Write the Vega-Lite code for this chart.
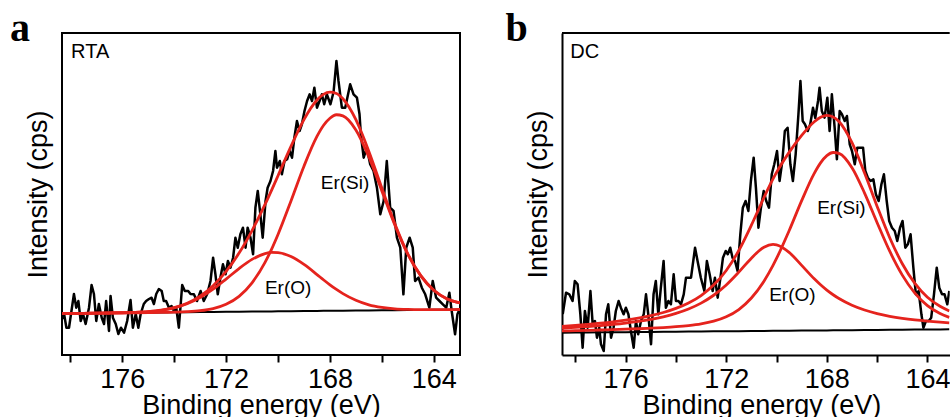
{
  "$schema": "https://vega.github.io/schema/vega-lite/v6.json",
  "padding": {"left": 9, "top": 8, "right": 0, "bottom": 0},
  "autosize": {"type": "pad"},
  "spacing": 44,
  "config": {
    "font": "Liberation Sans",
    "axis": {"grid": false, "labelColor": "#000", "titleColor": "#000", "tickColor": "#000", "domainColor": "#000", "titleFontWeight": "normal", "labelFontSize": 27, "titleFontSize": 27, "labelFont": "Liberation Sans", "titleFont": "Liberation Sans"}
  },
  "datasets": {
    "a_raw": [
      {"E":178.3,"I":35},{"E":178.24,"I":40},{"E":178.15,"I":26.3},{"E":178.05,"I":26.3},{"E":177.86,"I":60},{"E":177.77,"I":46.3},{"E":177.69,"I":53},{"E":177.6,"I":33},{"E":177.51,"I":40},{"E":177.41,"I":30},{"E":177.28,"I":46.3},{"E":177.18,"I":69},{"E":177.09,"I":60},{"E":177.0,"I":33},{"E":176.9,"I":50},{"E":176.79,"I":36.3},{"E":176.7,"I":30},{"E":176.62,"I":53},{"E":176.51,"I":23},{"E":176.45,"I":58},{"E":176.36,"I":36.3},{"E":176.25,"I":30},{"E":176.15,"I":20},{"E":176.05,"I":26.3},{"E":175.93,"I":21.3},{"E":175.81,"I":33},{"E":175.68,"I":54},{"E":175.59,"I":26.3},{"E":175.48,"I":40},{"E":175.38,"I":26.3},{"E":175.29,"I":40},{"E":175.17,"I":50},{"E":175.08,"I":53},{"E":174.97,"I":55},{"E":174.87,"I":56.3},{"E":174.78,"I":50},{"E":174.69,"I":60},{"E":174.59,"I":65},{"E":174.48,"I":63},{"E":174.4,"I":53},{"E":174.31,"I":53},{"E":174.2,"I":46.3},{"E":174.1,"I":48},{"E":174.01,"I":43},{"E":173.92,"I":46.3},{"E":173.82,"I":26.3},{"E":173.69,"I":69},{"E":173.59,"I":63},{"E":173.46,"I":63},{"E":173.37,"I":60},{"E":173.24,"I":59.7},{"E":173.12,"I":53},{"E":172.98,"I":63},{"E":172.86,"I":53},{"E":172.73,"I":59.7},{"E":172.6,"I":73},{"E":172.5,"I":96.3},{"E":172.41,"I":79.7},{"E":172.32,"I":59.7},{"E":172.22,"I":76.3},{"E":172.12,"I":89.7},{"E":172.02,"I":79.7},{"E":171.93,"I":93},{"E":171.83,"I":86.3},{"E":171.73,"I":96.3},{"E":171.64,"I":116.3},{"E":171.55,"I":106.3},{"E":171.45,"I":119.7},{"E":171.35,"I":126.3},{"E":171.25,"I":106.3},{"E":171.17,"I":126.3},{"E":171.06,"I":116.3},{"E":170.96,"I":99.7},{"E":170.87,"I":146.3},{"E":170.78,"I":163},{"E":170.68,"I":139.7},{"E":170.59,"I":116.3},{"E":170.48,"I":153},{"E":170.4,"I":166.3},{"E":170.29,"I":173},{"E":170.19,"I":183},{"E":170.1,"I":203},{"E":170.04,"I":186.3},{"E":169.93,"I":193},{"E":169.85,"I":179.7},{"E":169.75,"I":193},{"E":169.65,"I":194.7},{"E":169.55,"I":203},{"E":169.46,"I":196.3},{"E":169.37,"I":216.3},{"E":169.27,"I":233},{"E":169.17,"I":223},{"E":169.08,"I":229.7},{"E":168.98,"I":243},{"E":168.88,"I":253},{"E":168.78,"I":259.7},{"E":168.69,"I":253},{"E":168.6,"I":266.3},{"E":168.5,"I":246.3},{"E":168.4,"I":253},{"E":168.31,"I":259.7},{"E":168.22,"I":249.7},{"E":168.12,"I":259.7},{"E":167.98,"I":249.7},{"E":167.86,"I":262},{"E":167.75,"I":293},{"E":167.67,"I":273},{"E":167.54,"I":246.3},{"E":167.41,"I":246.3},{"E":167.22,"I":269.7},{"E":167.09,"I":259.7},{"E":166.96,"I":256.3},{"E":166.86,"I":239.7},{"E":166.81,"I":219.7},{"E":166.7,"I":196.3},{"E":166.58,"I":206.3},{"E":166.45,"I":189.7},{"E":166.32,"I":183},{"E":166.19,"I":166.3},{"E":166.06,"I":139.7},{"E":165.93,"I":153},{"E":165.81,"I":193},{"E":165.68,"I":146.3},{"E":165.55,"I":143},{"E":165.42,"I":116.3},{"E":165.29,"I":106.3},{"E":165.17,"I":59.7},{"E":165.06,"I":106.3},{"E":164.93,"I":116.3},{"E":164.81,"I":106.3},{"E":164.72,"I":73},{"E":164.59,"I":76.3},{"E":164.46,"I":66.3},{"E":164.33,"I":59.7},{"E":164.17,"I":46.3},{"E":164.04,"I":73},{"E":163.91,"I":56.3},{"E":163.78,"I":53},{"E":163.65,"I":49.7},{"E":163.52,"I":46.3},{"E":163.4,"I":61.3},{"E":163.31,"I":43},{"E":163.18,"I":19.7},{"E":163.09,"I":39.7},{"E":163.0,"I":45}
    ],
    "a_fit": [
      {"E":178.32,"base":40.5,"si":40.5,"o":40.5,"env":40.5},
      {"E":177.5,"base":40.71,"si":40.71,"o":40.71,"env":40.71},
      {"E":177,"base":40.84,"si":40.84,"o":40.86,"env":40.86},
      {"E":176.5,"base":40.97,"si":40.97,"o":41.02,"env":41.02},
      {"E":176,"base":41.1,"si":41.1,"o":41.25,"env":41.25},
      {"E":175.5,"base":41.24,"si":41.24,"o":41.65,"env":41.65},
      {"E":175,"base":41.37,"si":41.39,"o":42.36,"env":42.38},
      {"E":174.5,"base":41.5,"si":41.56,"o":43.7,"env":43.76},
      {"E":174,"base":41.63,"si":41.82,"o":46.13,"env":46.32},
      {"E":173.5,"base":41.76,"si":42.3,"o":50.26,"env":50.8},
      {"E":173,"base":41.89,"si":43.3,"o":56.39,"env":57.8},
      {"E":172.5,"base":42.02,"si":45.44,"o":64.82,"env":68.24},
      {"E":172,"base":42.15,"si":49.74,"o":74.95,"env":82.54},
      {"E":171.5,"base":42.28,"si":57.68,"o":85.48,"env":100.88},
      {"E":171,"base":42.41,"si":71.21,"o":94.61,"env":123.41},
      {"E":170.5,"base":42.54,"si":91.64,"o":100.44,"env":149.54},
      {"E":170.25,"base":42.6,"si":104.7,"o":101.6,"env":163.7},
      {"E":170,"base":42.67,"si":119.57,"o":101.37,"env":178.27},
      {"E":169.5,"base":42.8,"si":153.1,"o":97.4,"env":207.7},
      {"E":169,"base":42.93,"si":187.83,"o":89.53,"env":234.43},
      {"E":168.5,"base":43.06,"si":217.56,"o":79.46,"env":253.96},
      {"E":168.25,"base":43.13,"si":228.53,"o":74.23,"env":259.63},
      {"E":168,"base":43.19,"si":235.79,"o":69.19,"env":261.79},
      {"E":167.75,"base":43.26,"si":239.26,"o":64.56,"env":260.56},
      {"E":167.5,"base":43.32,"si":238.12,"o":60.42,"env":255.22},
      {"E":167,"base":43.45,"si":224.05,"o":53.75,"env":234.35},
      {"E":166.5,"base":43.58,"si":196.98,"o":49.18,"env":202.58},
      {"E":166,"base":43.71,"si":163.11,"o":46.61,"env":166.01},
      {"E":165.5,"base":43.84,"si":128.94,"o":45.14,"env":130.24},
      {"E":165,"base":43.97,"si":99.57,"o":44.53,"env":100.13},
      {"E":164.5,"base":44.1,"si":78.1,"o":44.32,"env":78.32},
      {"E":164,"base":44.23,"si":63.73,"o":44.31,"env":63.81},
      {"E":163.5,"base":44.36,"si":55.36,"o":44.36,"env":55.36},
      {"E":162.99,"base":44.5,"si":51.0,"o":44.5,"env":51.0}
    ],
    "a_tag": [{"label":"RTA","E":177.97,"I":296}],
    "a_lab": [{"label":"Er(Si)","E":167.42,"I":165},{"label":"Er(O)","E":169.61,"I":60}],
    "b_raw": [
      {"E":178.5,"I":40},{"E":178.37,"I":61.3},{"E":178.24,"I":59.7},{"E":178.11,"I":53},{"E":178.02,"I":73},{"E":177.91,"I":69.7},{"E":177.8,"I":39.7},{"E":177.71,"I":6.3},{"E":177.62,"I":43},{"E":177.51,"I":26.3},{"E":177.4,"I":63},{"E":177.31,"I":29.7},{"E":177.22,"I":33},{"E":177.14,"I":16.3},{"E":177.05,"I":26.3},{"E":176.98,"I":9.7},{"E":176.87,"I":3},{"E":176.78,"I":39.7},{"E":176.69,"I":49.7},{"E":176.58,"I":16.3},{"E":176.48,"I":26.3},{"E":176.39,"I":43},{"E":176.28,"I":53},{"E":176.19,"I":46.3},{"E":176.08,"I":39.7},{"E":175.99,"I":46.3},{"E":175.89,"I":39.7},{"E":175.79,"I":23},{"E":175.68,"I":6.3},{"E":175.59,"I":33},{"E":175.5,"I":19.7},{"E":175.39,"I":33},{"E":175.28,"I":39.7},{"E":175.19,"I":59.7},{"E":175.1,"I":39.7},{"E":174.99,"I":9.7},{"E":174.89,"I":59.7},{"E":174.8,"I":73},{"E":174.7,"I":39.7},{"E":174.6,"I":66.3},{"E":174.49,"I":93},{"E":174.4,"I":46.3},{"E":174.3,"I":53},{"E":174.2,"I":49.7},{"E":174.09,"I":79.7},{"E":174.0,"I":53},{"E":173.9,"I":53},{"E":173.8,"I":49.7},{"E":173.69,"I":59.7},{"E":173.6,"I":76.3},{"E":173.51,"I":76.3},{"E":173.4,"I":76.3},{"E":173.24,"I":106.3},{"E":173.14,"I":93},{"E":173.01,"I":76.3},{"E":172.87,"I":63},{"E":172.77,"I":93},{"E":172.66,"I":79.7},{"E":172.54,"I":63},{"E":172.45,"I":76.3},{"E":172.34,"I":56.3},{"E":172.23,"I":76.3},{"E":172.13,"I":96.3},{"E":172.02,"I":103},{"E":171.94,"I":99.7},{"E":171.84,"I":106.3},{"E":171.75,"I":96.3},{"E":171.65,"I":93},{"E":171.55,"I":83},{"E":171.44,"I":119.7},{"E":171.34,"I":146.3},{"E":171.23,"I":153},{"E":171.12,"I":143},{"E":171.02,"I":173},{"E":170.91,"I":196.3},{"E":170.82,"I":166.3},{"E":170.72,"I":126.3},{"E":170.62,"I":146.3},{"E":170.51,"I":163},{"E":170.41,"I":153},{"E":170.3,"I":146.3},{"E":170.19,"I":179.7},{"E":170.09,"I":189.7},{"E":169.98,"I":203},{"E":169.88,"I":173},{"E":169.77,"I":193},{"E":169.67,"I":223},{"E":169.56,"I":226.3},{"E":169.45,"I":189.7},{"E":169.35,"I":173},{"E":169.24,"I":199.7},{"E":169.13,"I":239.7},{"E":169.05,"I":273},{"E":168.96,"I":233},{"E":168.87,"I":229.7},{"E":168.76,"I":223},{"E":168.66,"I":229.7},{"E":168.55,"I":246.3},{"E":168.46,"I":236},{"E":168.35,"I":253},{"E":168.29,"I":266.3},{"E":168.2,"I":243},{"E":168.09,"I":236.3},{"E":167.98,"I":256.3},{"E":167.89,"I":223},{"E":167.8,"I":259.7},{"E":167.69,"I":226.3},{"E":167.6,"I":194.7},{"E":167.49,"I":243},{"E":167.4,"I":239.7},{"E":167.29,"I":233},{"E":167.2,"I":238},{"E":167.09,"I":209.7},{"E":167.0,"I":203},{"E":166.89,"I":189.7},{"E":166.79,"I":206.3},{"E":166.68,"I":206.3},{"E":166.56,"I":206.3},{"E":166.47,"I":183},{"E":166.37,"I":176.3},{"E":166.26,"I":173},{"E":166.15,"I":174.7},{"E":166.05,"I":159.7},{"E":165.94,"I":153},{"E":165.83,"I":169.7},{"E":165.73,"I":179.7},{"E":165.62,"I":153},{"E":165.52,"I":133},{"E":165.41,"I":126.3},{"E":165.3,"I":123},{"E":165.2,"I":113},{"E":165.09,"I":126.3},{"E":164.99,"I":133},{"E":164.88,"I":106.3},{"E":164.78,"I":109.7},{"E":164.67,"I":119.7},{"E":164.56,"I":86.3},{"E":164.46,"I":59.7},{"E":164.35,"I":63},{"E":164.24,"I":39.7},{"E":164.16,"I":26.3},{"E":164.06,"I":33},{"E":163.95,"I":33},{"E":163.85,"I":36.3},{"E":163.74,"I":59.7},{"E":163.63,"I":86.3},{"E":163.53,"I":66.3},{"E":163.42,"I":59.7},{"E":163.32,"I":59.7},{"E":163.21,"I":49.7},{"E":163.13,"I":63}
    ],
    "b_fit": [
      {"E":178.53,"base":21.3,"si":23.06,"o":25.95,"env":27.71},
      {"E":178,"base":21.42,"si":23.35,"o":26.67,"env":28.6},
      {"E":177.5,"base":21.53,"si":23.66,"o":27.47,"env":29.6},
      {"E":177,"base":21.64,"si":24.0,"o":28.41,"env":30.77},
      {"E":176.5,"base":21.75,"si":24.37,"o":29.53,"env":32.15},
      {"E":176,"base":21.86,"si":24.78,"o":30.87,"env":33.79},
      {"E":175.5,"base":21.97,"si":25.26,"o":32.53,"env":35.82},
      {"E":175,"base":22.08,"si":25.82,"o":34.59,"env":38.33},
      {"E":174.5,"base":22.19,"si":26.47,"o":37.21,"env":41.49},
      {"E":174,"base":22.3,"si":27.3,"o":40.59,"env":45.59},
      {"E":173.5,"base":22.41,"si":28.43,"o":45.01,"env":51.03},
      {"E":173,"base":22.52,"si":30.1,"o":50.89,"env":58.47},
      {"E":172.5,"base":22.63,"si":32.78,"o":58.75,"env":68.9},
      {"E":172,"base":22.74,"si":37.2,"o":69.07,"env":83.53},
      {"E":171.5,"base":22.85,"si":44.45,"o":81.93,"env":103.53},
      {"E":171,"base":22.96,"si":55.96,"o":95.87,"env":128.87},
      {"E":170.5,"base":23.07,"si":72.82,"o":106.76,"env":156.51},
      {"E":170.14,"base":23.15,"si":88.65,"o":109.55,"env":175.05},
      {"E":170,"base":23.18,"si":95.58,"o":109.16,"env":181.56},
      {"E":169.5,"base":23.29,"si":123.29,"o":101.66,"env":201.66},
      {"E":169,"base":23.4,"si":153.4,"o":88.6,"env":218.6},
      {"E":168.5,"base":23.51,"si":180.61,"o":75.17,"env":232.27},
      {"E":168.25,"base":23.57,"si":191.07,"o":69.21,"env":236.71},
      {"E":168,"base":23.62,"si":198.32,"o":63.9,"env":238.6},
      {"E":167.75,"base":23.68,"si":201.48,"o":59.27,"env":237.07},
      {"E":167.5,"base":23.73,"si":200.43,"o":55.24,"env":231.94},
      {"E":167,"base":23.84,"si":186.34,"o":48.77,"env":211.27},
      {"E":166.5,"base":23.95,"si":160.95,"o":43.99,"env":180.99},
      {"E":166,"base":24.06,"si":131.26,"o":40.41,"env":147.61},
      {"E":165.5,"base":24.17,"si":102.77,"o":37.71,"env":116.31},
      {"E":165,"base":24.28,"si":78.88,"o":35.64,"env":90.24},
      {"E":164.5,"base":24.39,"si":60.89,"o":34.04,"env":70.54},
      {"E":164,"base":24.5,"si":48.4,"o":32.79,"env":56.69},
      {"E":163.5,"base":24.61,"si":40.51,"o":31.8,"env":47.7},
      {"E":163.13,"base":24.7,"si":36.6,"o":31.19,"env":43.09}
    ],
    "b_tag": [{"label":"DC","E":178.2,"I":296}],
    "b_lab": [{"label":"Er(Si)","E":167.42,"I":140},{"label":"Er(O)","E":169.37,"I":53}]
  },
  "hconcat": [
    {
      "width": 398,
      "height": 322,
      "view": {"stroke": "#000", "strokeWidth": 2},
      "title": {"text": "a", "orient": "left", "anchor": "end", "angle": 0, "align": "right", "frame": "group", "font": "Liberation Serif", "fontWeight": "bold", "fontSize": 40, "color": "#000", "baseline": "alphabetic", "offset": 0, "dx": 26, "dy": 8},
      "layer": [
        {
          "data": {"name": "a_raw"},
          "mark": {"type": "line", "color": "#000", "strokeWidth": 2.5, "strokeJoin": "round", "clip": true},
          "encoding": {
            "x": {"field": "E", "type": "quantitative", "title": "Binding energy (eV)",
              "scale": {"domain": [178.32, 162.99], "nice": false, "zero": false},
              "axis": {"values": [178,176,174,172,170,168,166,164], "labelExpr": "datum.value % 4 === 0 ? datum.label : ''", "domain": false, "ticks": true, "tickSize": 7, "tickWidth": 2, "labelPadding": 4, "titlePadding": 0, "labelFlush": false, "labelOverlap": false, "format": "d"}},
            "y": {"field": "I", "type": "quantitative", "title": "Intensity (cps)",
              "scale": {"domain": [-1, 321], "nice": false, "zero": false},
              "axis": {"ticks": false, "labels": false, "domain": false, "titlePadding": 10}}
          }
        },
        {
          "data": {"name": "a_fit"},
          "mark": {"type": "line", "color": "#000", "strokeWidth": 2, "clip": true},
          "encoding": {"x": {"field": "E", "type": "quantitative", "title": "Binding energy (eV)"}, "y": {"field": "base", "type": "quantitative", "title": "Intensity (cps)"}}
        },
        {
          "data": {"name": "a_fit"},
          "mark": {"type": "line", "color": "#e5231d", "strokeWidth": 2.8, "interpolate": "monotone", "clip": true},
          "encoding": {"x": {"field": "E", "type": "quantitative", "title": "Binding energy (eV)"}, "y": {"field": "o", "type": "quantitative", "title": "Intensity (cps)"}}
        },
        {
          "data": {"name": "a_fit"},
          "mark": {"type": "line", "color": "#e5231d", "strokeWidth": 2.8, "interpolate": "monotone", "clip": true},
          "encoding": {"x": {"field": "E", "type": "quantitative", "title": "Binding energy (eV)"}, "y": {"field": "si", "type": "quantitative", "title": "Intensity (cps)"}}
        },
        {
          "data": {"name": "a_fit"},
          "mark": {"type": "line", "color": "#e5231d", "strokeWidth": 2.8, "interpolate": "monotone", "clip": true},
          "encoding": {"x": {"field": "E", "type": "quantitative", "title": "Binding energy (eV)"}, "y": {"field": "env", "type": "quantitative", "title": "Intensity (cps)"}}
        },
        {
          "data": {"name": "a_tag"},
          "mark": {"type": "text", "align": "left", "baseline": "alphabetic", "fontSize": 20, "color": "#000", "font": "Liberation Sans"},
          "encoding": {"x": {"field": "E", "type": "quantitative", "title": "Binding energy (eV)"}, "y": {"field": "I", "type": "quantitative", "title": "Intensity (cps)"}, "text": {"field": "label"}}
        },
        {
          "data": {"name": "a_lab"},
          "mark": {"type": "text", "align": "center", "baseline": "alphabetic", "fontSize": 19, "color": "#000", "font": "Liberation Sans"},
          "encoding": {"x": {"field": "E", "type": "quantitative", "title": "Binding energy (eV)"}, "y": {"field": "I", "type": "quantitative", "title": "Intensity (cps)"}, "text": {"field": "label"}}
        }
      ]
    },
    {
      "width": 387.7,
      "height": 322,
      "view": {"stroke": null},
      "title": {"text": "b", "orient": "left", "anchor": "end", "angle": 0, "align": "right", "frame": "group", "font": "Liberation Serif", "fontWeight": "bold", "fontSize": 40, "color": "#000", "baseline": "alphabetic", "offset": 0, "dx": 26, "dy": 8},
      "layer": [
        {
          "data": {"name": "b_raw"},
          "mark": {"type": "line", "color": "#000", "strokeWidth": 2.5, "strokeJoin": "round", "clip": true},
          "encoding": {
            "x": {"field": "E", "type": "quantitative", "title": "Binding energy (eV)",
              "scale": {"domain": [178.53, 163.115], "nice": false, "zero": false},
              "axis": {"values": [178,176,174,172,170,168,166,164], "labelExpr": "datum.value % 4 === 0 ? datum.label : ''", "domain": true, "domainWidth": 2, "ticks": true, "tickSize": 7, "tickWidth": 2, "labelPadding": 4, "titlePadding": 0, "labelFlush": false, "labelOverlap": false, "format": "d", "titleX": 199.4}},
            "y": {"field": "I", "type": "quantitative", "title": "Intensity (cps)",
              "scale": {"domain": [-1, 321], "nice": false, "zero": false},
              "axis": {"ticks": false, "labels": false, "domain": true, "domainWidth": 2, "titlePadding": 10}}
          }
        },
        {
          "data": {"name": "b_fit"},
          "mark": {"type": "line", "color": "#000", "strokeWidth": 2, "clip": true},
          "encoding": {"x": {"field": "E", "type": "quantitative", "title": "Binding energy (eV)"}, "y": {"field": "base", "type": "quantitative", "title": "Intensity (cps)"}}
        },
        {
          "data": {"name": "b_fit"},
          "mark": {"type": "line", "color": "#e5231d", "strokeWidth": 2.8, "interpolate": "monotone", "clip": true},
          "encoding": {"x": {"field": "E", "type": "quantitative", "title": "Binding energy (eV)"}, "y": {"field": "o", "type": "quantitative", "title": "Intensity (cps)"}}
        },
        {
          "data": {"name": "b_fit"},
          "mark": {"type": "line", "color": "#e5231d", "strokeWidth": 2.8, "interpolate": "monotone", "clip": true},
          "encoding": {"x": {"field": "E", "type": "quantitative", "title": "Binding energy (eV)"}, "y": {"field": "si", "type": "quantitative", "title": "Intensity (cps)"}}
        },
        {
          "data": {"name": "b_fit"},
          "mark": {"type": "line", "color": "#e5231d", "strokeWidth": 2.8, "interpolate": "monotone", "clip": true},
          "encoding": {"x": {"field": "E", "type": "quantitative", "title": "Binding energy (eV)"}, "y": {"field": "env", "type": "quantitative", "title": "Intensity (cps)"}}
        },
        {
          "data": {"values": [{}]},
          "mark": {"type": "rule", "color": "#000", "strokeWidth": 2},
          "encoding": {"y": {"datum": 321, "type": "quantitative"}}
        },
        {
          "data": {"name": "b_tag"},
          "mark": {"type": "text", "align": "left", "baseline": "alphabetic", "fontSize": 20, "color": "#000", "font": "Liberation Sans"},
          "encoding": {"x": {"field": "E", "type": "quantitative", "title": "Binding energy (eV)"}, "y": {"field": "I", "type": "quantitative", "title": "Intensity (cps)"}, "text": {"field": "label"}}
        },
        {
          "data": {"name": "b_lab"},
          "mark": {"type": "text", "align": "center", "baseline": "alphabetic", "fontSize": 19, "color": "#000", "font": "Liberation Sans"},
          "encoding": {"x": {"field": "E", "type": "quantitative", "title": "Binding energy (eV)"}, "y": {"field": "I", "type": "quantitative", "title": "Intensity (cps)"}, "text": {"field": "label"}}
        }
      ]
    }
  ]
}
